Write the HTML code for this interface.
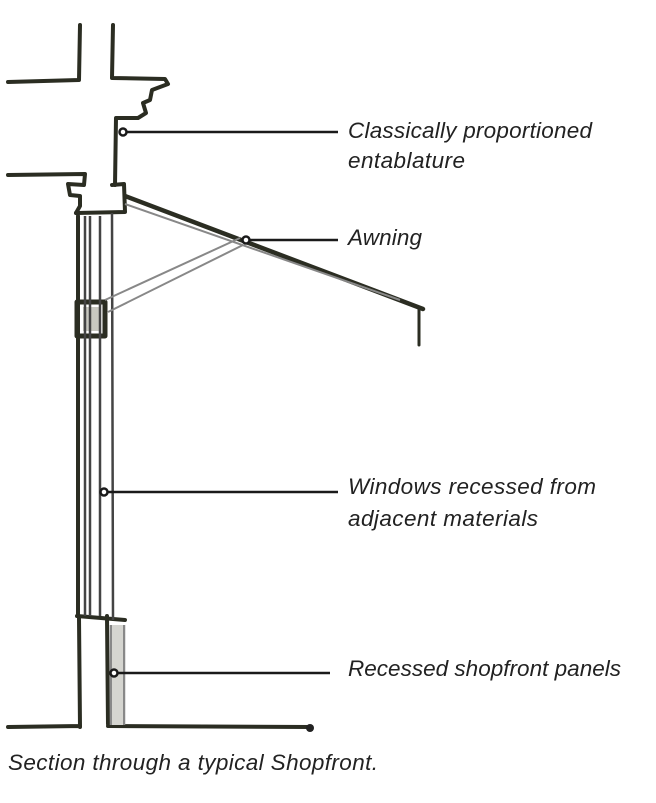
<!DOCTYPE html>
<html><head><style>
body{margin:0;background:#fff;}
svg{display:block}
text{font-family:"Liberation Sans",sans-serif;font-style:italic;font-size:22.5px;fill:#222;}
</style></head><body>
<svg width="656" height="803" viewBox="0 0 656 803" xmlns="http://www.w3.org/2000/svg">
<g fill="none" stroke="#2b2d22" stroke-width="4" stroke-linejoin="round" stroke-linecap="round">
<path d="M80 25 L79 80 L8 82"/>
<path d="M113 25 L112 78 L165 79 L168 84 L152 90 L150 100 L143 103 L146 113 L138 118 L116 118 L115 185"/>
<path d="M8 175 L85 174 L84 185 L68 184 L70 195 L80 196 L80 206 L76 213"/>
<path d="M112 185 L124 184 L125 212 L76 213"/>
<path d="M125 196 L423 309" stroke-width="4.5"/>
<path d="M419 309 L419 345" stroke-width="3"/>
<path d="M78 216 L78 616 M107 616 L108 724 M79 618 L80 727 M8 727 L80 726 M108 726 L310 727"/>
<path d="M77 616 L125 620"/>
<path d="M77 302 L105 302 L105 336 L77 336 Z" stroke-width="5"/>
</g>
<rect x="83" y="307" width="17" height="24" fill="#c8c8c0"/>
<g fill="none" stroke="#444" stroke-width="2.5">
<path d="M85 216 L85 616 M90 216 L90 616 M100 216 L100 616 M112 213 L113 620"/>
<path d="M125 204 L400 300" stroke="#888" stroke-width="2"/>
<path d="M105 300 L240 238 M108 312 L243 245" stroke="#888" stroke-width="2"/>
<path d="M111 625 L111 725 M124 625 L124 725" stroke="#888" stroke-width="2.5"/>
</g>
<rect x="112" y="625" width="11" height="100" fill="#d5d5d0"/>
<circle cx="310" cy="728" r="4" fill="#222"/>
<g stroke="#1a1a1a" stroke-width="2.5">
<line x1="126" y1="132" x2="338" y2="132"/>
<line x1="249" y1="240" x2="338" y2="240"/>
<line x1="107" y1="492" x2="338" y2="492"/>
<line x1="117" y1="673" x2="330" y2="673"/>
</g>
<g fill="#fff" stroke="#1a1a1a" stroke-width="2.5">
<circle cx="123" cy="132" r="3.5"/><circle cx="246" cy="240" r="3.5"/>
<circle cx="104" cy="492" r="3.5"/><circle cx="114" cy="673" r="3.5"/>
</g>
<text x="348" y="138" textLength="244">Classically proportioned</text>
<text x="348" y="168" textLength="117">entablature</text>
<text x="348" y="245" textLength="74">Awning</text>
<text x="348" y="494" textLength="248">Windows recessed from</text>
<text x="348" y="526" textLength="190">adjacent materials</text>
<text x="348" y="676" textLength="273">Recessed shopfront panels</text>
<text x="8" y="770" textLength="370">Section through a typical Shopfront.</text>
</svg>
</body></html>
